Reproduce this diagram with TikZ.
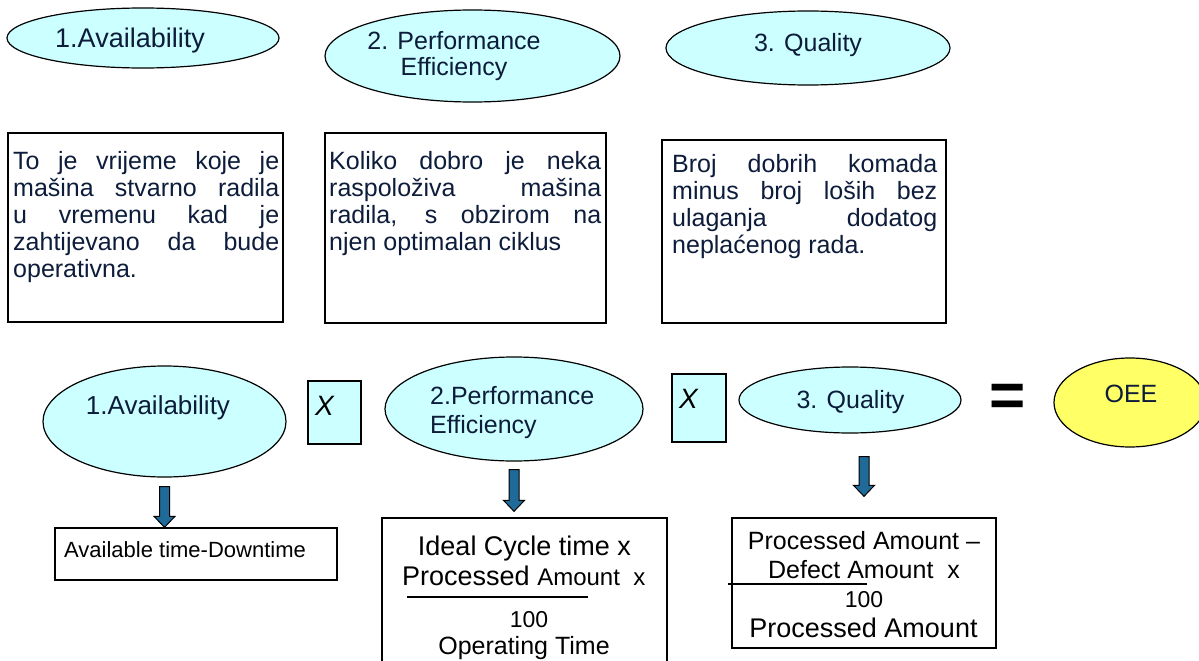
\documentclass[tikz,border=0pt]{standalone}
\usepackage{fontspec}
\setmainfont{Liberation Sans}
\usetikzlibrary{shapes.geometric,calc}

\definecolor{ovalfill}{RGB}{204,255,255}
\definecolor{oeefill}{RGB}{255,255,102}
\definecolor{inknavy}{RGB}{12,28,58}
\definecolor{arrowblue}{RGB}{31,106,152}

\hyphenpenalty=10000
\exhyphenpenalty=10000

\tikzset{
  oval/.style={ellipse, draw, line width=1.2pt, fill=ovalfill, inner sep=0pt},
  ovaltext/.style={text=inknavy, font=\fontsize{25}{27}\selectfont, inner sep=0pt, anchor=base},
  descbox/.style={draw, line width=1.3pt, inner sep=0pt},
  desctext/.style={text=inknavy, font=\fontsize{25}{27}\selectfont, text width=#1,
    align=justify, inner sep=0pt, anchor=base west},
  timesbox/.style={draw, line width=1.3pt, fill=ovalfill, inner sep=0pt},
  timestext/.style={font=\fontsize{28}{28}\selectfont\itshape, inner sep=0pt, anchor=base west},
  formbox/.style={draw, line width=1.3pt, inner sep=0pt},
  formtext/.style={font=\fontsize{#1}{#1}\selectfont, inner sep=0pt, anchor=base},
  blockarrow/.style={draw=black, line width=1pt, fill=arrowblue, line join=miter},
}

% thick down arrow from tail #1 to tip #2
\newcommand\downblock[2]{%
  \path[blockarrow] let \p1=(#1), \p2=(#2) in
    (\x1-5pt,\y1) -- (\x1+5pt,\y1) -- (\x1+5pt,\y2+11pt) -- (\x1+10.5pt,\y2+11pt)
    -- (\x1,\y2) -- (\x1-10.5pt,\y2+11pt) -- (\x1-5pt,\y2+11pt) -- cycle;}

\begin{document}
\begin{tikzpicture}[x=1pt,y=-1pt]
  \useasboundingbox (0,0) rectangle (1199,661);

  % headings
  \node[oval, minimum width=272pt, minimum height=60pt] (avail) at (143,38) {};
  \node[ovaltext, font=\fontsize{27}{27}\selectfont] (availT) at (130,48) {1.Availability};
  \node[oval, minimum width=295pt, minimum height=92pt] (perf) at (472.5,56) {};
  \node[ovaltext, align=center] (perfT) at (454,76) {2. Performance\\Efficiency};
  \node[oval, minimum width=284pt, minimum height=74pt] (qual) at (808,48) {};
  \node[ovaltext] (qualT) at (808,52) {3. Quality};

  % definitions
  \node[descbox, minimum width=275pt, minimum height=189pt] (availBox) at (145.5,227.5) {};
  \node[desctext=266pt] (availDesc) at (13,169)
    {To je vrijeme koje je\linebreak mašina stvarno radila\linebreak u vremenu kad je\linebreak
     zahtijevano da bude\linebreak operativna.};
  \node[descbox, minimum width=281pt, minimum height=190pt] (perfBox) at (465.5,228) {};
  \node[desctext=272pt] (perfDesc) at (329,169)
    {Koliko dobro je neka\linebreak raspoloživa mašina\linebreak radila, s obzirom na\linebreak
     njen optimalan ciklus};
  \node[descbox, minimum width=284pt, minimum height=183pt] (qualBox) at (804,231.5) {};
  \node[desctext=265pt] (qualDesc) at (672,172)
    {Broj dobrih komada\linebreak minus broj loših bez\linebreak ulaganja dodatog\linebreak
     neplaćenog rada.};

  % product
  \node[oval, minimum width=243pt, minimum height=111pt] (availB) at (164.5,421.5) {};
  \node[ovaltext, font=\fontsize{26}{26}\selectfont] (availBT) at (158,414) {1.Availability};
  \node[timesbox, minimum width=53pt, minimum height=63pt] (times1) at (334.5,412.5) {};
  \node[timestext] (times1T) at (315,415) {X};
  \node[oval, minimum width=258pt, minimum height=104pt] (perfB) at (514,409) {};
  \node[ovaltext, anchor=base west, align=left, font=\fontsize{25}{29}\selectfont] (perfBT)
    at (430,433) {2.Performance\\Efficiency};
  \node[timesbox, minimum width=54pt, minimum height=68pt] (times2) at (699,408) {};
  \node[timestext] (times2T) at (679,408) {X};
  \node[oval, minimum width=222pt, minimum height=66pt] (qualB) at (850,400) {};
  \node[ovaltext] (qualBT) at (850.5,408) {3. Quality};
  \node[formtext=62, font=\fontsize{62}{62}\selectfont\bfseries] (equals) at (1008,416) {=};
  \node[oval, fill=oeefill, minimum width=152pt, minimum height=89pt] (oee) at (1130,402.5) {};
  \node[ovaltext] (oeeT) at (1131,402) {OEE};

  % formulas
  \node[formbox, minimum width=282pt, minimum height=52pt] (formA) at (196,554) {};
  \node[formtext=22, anchor=base west] (aLine) at (64,557) {Available time-Downtime};

  \node[formbox, minimum width=285pt, minimum height=154pt] (formB) at (524.5,595) {};
  \node[formtext=27] (bLine1) at (524.5,555) {Ideal Cycle time x};
  \node[formtext=27, anchor=base west] (bLine2) at (402,585)
    {Processed {\fontsize{24}{24}\selectfont Amount \ x}};
  \draw[line width=1.2pt] (407,597) -- (588,597);
  \node[formtext=23] (bNum) at (529,627) {100};
  \node[formtext=25] (bLine3) at (524,654) {Operating Time};

  \node[formbox, minimum width=264pt, minimum height=130pt] (formC) at (864,583) {};
  \node[formtext=25] (cLine1) at (864,549) {Processed Amount –};
  \node[formtext=25] (cLine2) at (864,578) {Defect Amount \ x};
  \draw[line width=1.2pt] (728,584) -- (867,584);
  \node[formtext=23] (cNum) at (864,607) {100};
  \node[formtext=27] (cLine3) at (863.5,637) {Processed Amount};

  \downblock{[yshift=-9pt]availB.south}{availB.south |- formA.north}
  \downblock{[yshift=-8pt]perfB.south}{$(perfB.south |- formB.north)+(0,-6)$}
  \downblock{$(formC.north |- qualB.south)+(0,23)$}{$(formC.north)+(0,-21)$}
\end{tikzpicture}
\end{document}
